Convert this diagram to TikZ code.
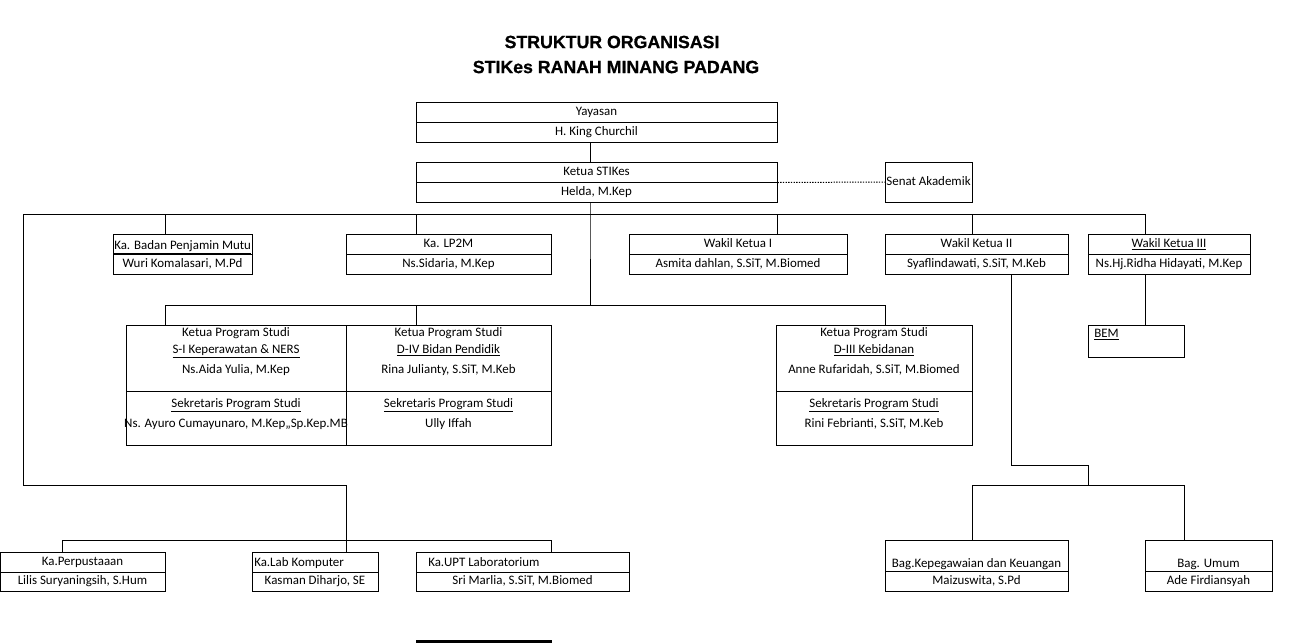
\documentclass[tikz,border=0pt]{standalone}
\usepackage{fontspec}
\setmainfont{Carlito}
\newfontfamily\headfont{Liberation Sans}[BoldFeatures={FakeBold=0.8}]

\begin{document}
\begin{tikzpicture}[x=0.75pt,y=-0.75pt,
    font=\fontsize{9.7}{11}\selectfont,
    cell/.style={draw, line width=0.75pt, inner sep=0pt, minimum height=15pt,
                 text height=6.5pt, text depth=1.5pt},
    txt/.style={inner sep=0pt, anchor=base},
    link/.style={line width=0.75pt}]
    \useasboundingbox (0,0) rectangle (1292,643);

    % judul
    \node[font=\headfont\bfseries\fontsize{13.3}{15}\selectfont] (judulA) at (612,42) {STRUKTUR ORGANISASI};
    \node[font=\headfont\bfseries\fontsize{13.3}{15}\selectfont] (judulB) at (616,67) {STIKes RANAH MINANG PADANG};

    % yayasan dan ketua
    \node[cell, minimum width=270.75pt] (yayT) at (596.5,112) {Yayasan};
    \node[cell, minimum width=270.75pt] (yayB) at (596.5,132) {H. King Churchil};
    \node[cell, minimum width=270.75pt] (ketT) at (596.5,172) {Ketua STIKes};
    \node[cell, minimum width=270.75pt] (ketB) at (596.5,192) {Helda, M.Kep};
    \node[cell, minimum width=65.25pt, minimum height=30pt] (senat) at (928.5,182) {Senat Akademik};

    % baris kedua
    \node[cell, minimum width=104.25pt] (bpmT) at (182.5,244) {};
    \node[txt, anchor=base west] (bpmL) at (114,249) {\underline{Ka. Badan Penjamin Mutu}};
    \node[cell, minimum width=104.25pt] (bpmB) at (182.5,264) {Wuri Komalasari, M.Pd};
    \node[cell, minimum width=153.75pt] (lpmT) at (448.5,244) {Ka. LP2M};
    \node[cell, minimum width=153.75pt] (lpmB) at (448.5,264) {Ns.Sidaria, M.Kep};
    \node[cell, minimum width=163.5pt] (wkaT) at (738,244) {Wakil Ketua I};
    \node[cell, minimum width=163.5pt] (wkaB) at (738,264) {Asmita dahlan, S.SiT, M.Biomed};
    \node[cell, minimum width=137.25pt] (wkbT) at (976.5,244) {Wakil Ketua II};
    \node[cell, minimum width=137.25pt] (wkbB) at (976.5,264) {Syaflindawati, S.SiT, M.Keb};
    \node[cell, minimum width=121.5pt] (wkcT) at (1169,244) {\underline{Wakil Ketua III}};
    \node[cell, minimum width=121.5pt] (wkcB) at (1169,264) {Ns.Hj.Ridha Hidayati, M.Kep};

    % program studi
    \node[cell, minimum width=165pt, minimum height=49.5pt] (psaT) at (236,358) {};
    \node[cell, minimum width=165pt, minimum height=40.5pt] (psaB) at (236,418) {};
    \node[cell, minimum width=153.75pt, minimum height=49.5pt] (psbT) at (448.5,358) {};
    \node[cell, minimum width=153.75pt, minimum height=40.5pt] (psbB) at (448.5,418) {};
    \node[cell, minimum width=147pt, minimum height=49.5pt] (pscT) at (874,358) {};
    \node[cell, minimum width=147pt, minimum height=40.5pt] (pscB) at (874,418) {};

    \node[txt] (psa1) at (236,336) {Ketua Program Studi};
    \node[txt] (psa2) at (236,353) {\underline{S-I Keperawatan \& NERS}};
    \node[txt] (psa3) at (236,373) {Ns.Aida Yulia, M.Kep};
    \node[txt] (psa4) at (236,407) {\underline{Sekretaris Program Studi}};
    \node[txt] (psa5) at (236,427) {Ns. Ayuro Cumayunaro, M.Kep,,Sp.Kep.MB};

    \node[txt] (psb1) at (448.5,336) {Ketua Program Studi};
    \node[txt] (psb2) at (448.5,353) {\underline{D-IV Bidan Pendidik}};
    \node[txt] (psb3) at (448.5,373) {Rina Julianty, S.SiT, M.Keb};
    \node[txt] (psb4) at (448.5,407) {\underline{Sekretaris Program Studi}};
    \node[txt] (psb5) at (448.5,427) {Ully Iffah};

    \node[txt] (psc1) at (874,336) {Ketua Program Studi};
    \node[txt] (psc2) at (874,353) {\underline{D-III Kebidanan}};
    \node[txt] (psc3) at (874,373) {Anne Rufaridah, S.SiT, M.Biomed};
    \node[txt] (psc4) at (874,407) {\underline{Sekretaris Program Studi}};
    \node[txt] (psc5) at (874,427) {Rini Febrianti, S.SiT, M.Keb};

    % bem
    \node[cell, minimum width=72pt, minimum height=24pt] (bem) at (1136,341) {};
    \node[txt, anchor=base west] (bemL) at (1094,337) {\underline{BEM}};

    % unit bawah
    \node[cell, minimum width=123.75pt] (perT) at (82.5,562) {Ka.Perpustaaan};
    \node[cell, minimum width=123.75pt, minimum height=14.25pt] (perB) at (82.5,581.5) {Lilis Suryaningsih, S.Hum};
    \node[cell, minimum width=94.5pt] (labT) at (315,562) {};
    \node[txt, anchor=base west] (labL) at (254,566) {Ka.Lab Komputer};
    \node[cell, minimum width=94.5pt, minimum height=14.25pt] (labB) at (315,581.5) {Kasman Diharjo, SE};
    \node[cell, minimum width=159.75pt] (uptT) at (522.5,562) {};
    \node[txt, anchor=base west] (uptL) at (428,566) {Ka.UPT Laboratorium};
    \node[cell, minimum width=159.75pt, minimum height=14.25pt] (uptB) at (522.5,581.5) {Sri Marlia, S.SiT, M.Biomed};

    \node[cell, minimum width=137.25pt, minimum height=23.25pt] (kepT) at (976.5,555.5) {};
    \node[txt] (kepL) at (976.5,567) {Bag.Kepegawaian dan Keuangan};
    \node[cell, minimum width=137.25pt] (kepB) at (976.5,581) {Maizuswita, S.Pd};
    \node[cell, minimum width=95.25pt, minimum height=23.25pt] (umuT) at (1208.5,555.5) {};
    \node[txt] (umuL) at (1208.5,567) {Bag. Umum};
    \node[cell, minimum width=95.25pt] (umuB) at (1208.5,581) {Ade Firdiansyah};

    % titik cabang
    \coordinate (spine) at (590,214);
    \coordinate (busL) at (23,214);
    \coordinate (busR) at (1145,214);
    \coordinate (tBpm) at (165,214);
    \coordinate (tLpm) at (416,214);
    \coordinate (tWka) at (777,214);
    \coordinate (tWkb) at (972,214);
    \coordinate (midM) at (590,305);
    \coordinate (midL) at (165,305);
    \coordinate (midB) at (416,305);
    \coordinate (midR) at (885,305);
    \coordinate (lowL) at (23,485);
    \coordinate (lowM) at (346,485);
    \coordinate (botL) at (62,540);
    \coordinate (botR) at (551,540);
    \coordinate (kbA) at (1011,465);
    \coordinate (kbB) at (1088,465);
    \coordinate (kbM) at (1088,485);
    \coordinate (kbL) at (972,485);
    \coordinate (kbR) at (1184,485);

    % garis
    \draw[link] (yayB.south -| spine) -- (ketT.north -| spine);
    \draw[link] (ketB.south -| spine) -- (spine) -- (midM);
    \draw[link] (busL) -- (busR);
    \draw[link] (tBpm) -- (tBpm |- bpmT.north);
    \draw[link] (tLpm) -- (tLpm |- lpmT.north);
    \draw[link] (tWka) -- (tWka |- wkaT.north);
    \draw[link] (tWkb) -- (tWkb |- wkbT.north);
    \draw[link] (busR) -- (busR |- wkcT.north);
    \draw[link, dash pattern=on 1pt off 1pt] (ketT.south east) -- (senat.west);

    \draw[link] (midL) -- (midR);
    \draw[link] (midL) -- (midL |- psaT.north);
    \draw[link] (midB) -- (midB |- psbT.north);
    \draw[link] (midR) -- (midR |- pscT.north);

    \draw[link] (wkcB.south -| busR) -- (bem.north -| busR);

    \draw[link] (busL) -- (lowL) -- (lowM) -- (lowM |- labT.north);
    \draw[link] (botL) -- (botR);
    \draw[link] (botL) -- (botL |- perT.north);
    \draw[link] (botR) -- (botR |- uptT.north);

    \draw[link] (wkbB.south -| kbA) -- (kbA) -- (kbB) -- (kbM);
    \draw[link] (kbL) -- (kbR);
    \draw[link] (kbL) -- (kbL |- kepT.north);
    \draw[link] (kbR) -- (kbR |- umuT.north);

    \fill (416,640) rectangle (552,643);
\end{tikzpicture}
\end{document}
